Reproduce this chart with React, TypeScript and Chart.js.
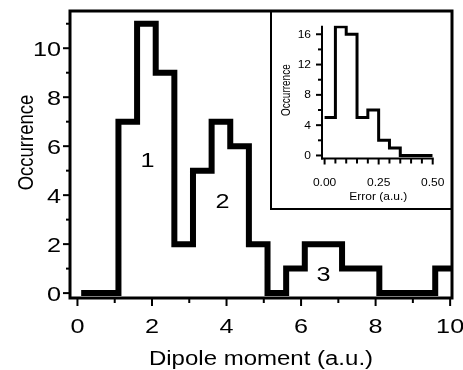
import React, { useEffect, useRef } from 'react';
import { Chart, registerables } from 'chart.js';

Chart.register(...registerables);

// ---------- data ----------
const mainBinEdges = [0.1, 0.6, 1.1, 1.6, 2.1, 2.6, 3.1, 3.6, 4.1, 4.6, 5.1, 5.6, 6.1, 6.6, 7.1, 7.6, 8.1, 8.6, 9.1, 9.6, 10.1];
const mainCounts = [0, 0, 7, 11, 9, 2, 5, 7, 6, 2, 0, 1, 2, 2, 1, 1, 0, 0, 0, 1];
const mainXTicks = [0, 2, 4, 6, 8, 10];
const mainXMinor = [1, 3, 5, 7, 9];
const mainYTicks = [0, 2, 4, 6, 8, 10];
const mainYMinor = [1, 3, 5, 7, 9, 11];
const peakLabels = ['1', '2', '3'];
const peakX = [1.88, 3.89, 6.6];
const peakY = [5.47, 3.8, 0.8];

const insetBinEdges = [0, 0.05, 0.1, 0.15, 0.2, 0.25, 0.3, 0.35, 0.4, 0.45, 0.5];
const insetCounts = [5, 17, 16, 5, 6, 2, 1, 0, 0, 0];
const insetXTicks = [0, 0.25, 0.5];
const insetXMinor = [0.05, 0.1, 0.15, 0.2, 0.3, 0.35, 0.4, 0.45];
const insetYTicks = [0, 4, 8, 12, 16];
const insetYMinor = [2, 6, 10, 14];

const mainXTitle = 'Dipole moment (a.u.)';
const mainYTitle = 'Occurrence';
const insetXTitle = 'Error (a.u.)';
const insetYTitle = 'Occurrence';

// ---------- layout / style ----------
const FONT = '"Liberation Sans", Arial, Helvetica, sans-serif';
const SX = 1.2; // horizontal text stretch seen in the reference
const W = 463;
const H = 370;
const INSET = { left: 272, top: 12, width: 178, height: 196 };
const INSET_BOX = { x: 271, y: 11, w: 181, h: 198 };

function stepPoints(edges: number[], counts: number[]) {
  return edges.map((x, i) => ({ x, y: counts[Math.min(i, counts.length - 1)] }));
}

function drawText(
  ctx: CanvasRenderingContext2D,
  text: string,
  x: number,
  y: number,
  size: number,
  align: CanvasTextAlign,
  rotate = false
) {
  ctx.save();
  ctx.translate(x, y);
  ctx.scale(SX, 1);
  if (rotate) ctx.rotate(-Math.PI / 2);
  ctx.font = `${size}px ${FONT}`;
  ctx.fillStyle = '#000';
  ctx.textAlign = align;
  ctx.textBaseline = 'alphabetic';
  ctx.fillText(text, 0, 0);
  ctx.restore();
}

function line(ctx: CanvasRenderingContext2D, x1: number, y1: number, x2: number, y2: number) {
  ctx.beginPath();
  ctx.moveTo(x1, y1);
  ctx.lineTo(x2, y2);
  ctx.stroke();
}

const mainDecor = {
  id: 'mainDecor',
  afterDraw(chart: any) {
    const { ctx, chartArea: a } = chart;
    const xs = chart.scales.x;
    const ys = chart.scales.y;
    ctx.save();
    // inset panel background + frame
    ctx.fillStyle = '#fff';
    ctx.fillRect(INSET_BOX.x, INSET_BOX.y, INSET_BOX.w, INSET_BOX.h);
    ctx.strokeStyle = '#000';
    ctx.lineWidth = 2;
    ctx.strokeRect(INSET_BOX.x, INSET_BOX.y, INSET_BOX.w, INSET_BOX.h);
    // main frame
    ctx.lineWidth = 3;
    ctx.strokeRect(a.left, a.top, a.right - a.left, a.bottom - a.top);
    // ticks
    ctx.lineWidth = 2;
    mainXTicks.forEach((v) => {
      const p = xs.getPixelForValue(v);
      line(ctx, p, a.bottom, p, a.bottom + 8);
      drawText(ctx, String(v), p, a.bottom + 35, 21, 'center');
    });
    mainXMinor.forEach((v) => {
      const p = xs.getPixelForValue(v);
      line(ctx, p, a.bottom, p, a.bottom + 5);
    });
    mainYTicks.forEach((v) => {
      const p = ys.getPixelForValue(v);
      line(ctx, a.left, p, a.left - 7, p);
      drawText(ctx, String(v), a.left - 9, p + 7.5, 21, 'right');
    });
    mainYMinor.forEach((v) => {
      const p = ys.getPixelForValue(v);
      line(ctx, a.left, p, a.left - 4, p);
    });
    // titles
    drawText(ctx, mainXTitle, (a.left + a.right) / 2, a.bottom + 67, 20, 'center');
    drawText(ctx, mainYTitle, a.left - 37, (a.top + a.bottom) / 2 - 12, 18.5, 'center', true);
    // peak labels
    peakLabels.forEach((t, i) => {
      drawText(ctx, t, xs.getPixelForValue(peakX[i]), ys.getPixelForValue(peakY[i]) + 7.5, 21, 'center');
    });
    ctx.restore();
  },
};

const insetDecor = {
  id: 'insetDecor',
  afterDraw(chart: any) {
    const { ctx, chartArea: a } = chart;
    const xs = chart.scales.x;
    const ys = chart.scales.y;
    ctx.save();
    ctx.strokeStyle = '#000';
    ctx.lineWidth = 2;
    line(ctx, a.left, a.top, a.left, a.bottom + 1);
    line(ctx, a.left - 1, a.bottom, a.right + 1, a.bottom);
    insetXTicks.forEach((v) => {
      const p = xs.getPixelForValue(v);
      line(ctx, p, a.bottom, p, a.bottom + 6);
      drawText(ctx, v.toFixed(2), p, a.bottom + 27, 10, 'center');
    });
    insetXMinor.forEach((v) => {
      const p = xs.getPixelForValue(v);
      line(ctx, p, a.bottom, p, a.bottom + 5);
    });
    insetYTicks.forEach((v) => {
      const p = ys.getPixelForValue(v);
      line(ctx, a.left, p, a.left - 6, p);
      drawText(ctx, String(v), a.left - 11, p + 3.6, 10, 'right');
    });
    insetYMinor.forEach((v) => {
      const p = ys.getPixelForValue(v);
      line(ctx, a.left, p, a.left - 4, p);
    });
    drawText(ctx, insetXTitle, (a.left + a.right) / 2 + 1, a.bottom + 41.5, 10, 'center');
    drawText(ctx, insetYTitle, a.left - 32, (a.top + a.bottom) / 2 - 2, 10, 'center', true);
    ctx.restore();
  },
};

export default function App() {
  const mainRef = useRef<HTMLCanvasElement | null>(null);
  const insetRef = useRef<HTMLCanvasElement | null>(null);

  useEffect(() => {
    if (!mainRef.current || !insetRef.current) return;
    const main = new Chart(mainRef.current, {
      type: 'line',
      data: {
        datasets: [
          {
            data: stepPoints(mainBinEdges, mainCounts),
            borderColor: '#000',
            borderWidth: 6,
            borderJoinStyle: 'miter',
            borderCapStyle: 'butt',
            pointRadius: 0,
            stepped: true,
            fill: false,
            clip: 0,
          } as any,
        ],
      },
      options: {
        responsive: false,
        animation: false,
        events: [],
        layout: { padding: { left: 70, right: 11, top: 11, bottom: 72 } },
        plugins: { legend: { display: false }, tooltip: { enabled: false } },
        scales: {
          x: { type: 'linear', min: -0.2, max: 10.05, display: false },
          y: { type: 'linear', min: -0.2, max: 11.52, display: false },
        },
      },
      plugins: [mainDecor],
    });

    const inset = new Chart(insetRef.current, {
      type: 'line',
      data: {
        datasets: [
          {
            data: stepPoints(insetBinEdges, insetCounts),
            borderColor: '#000',
            borderWidth: 3,
            borderJoinStyle: 'miter',
            borderCapStyle: 'butt',
            pointRadius: 0,
            stepped: true,
            fill: false,
          } as any,
        ],
      },
      options: {
        responsive: false,
        animation: false,
        events: [],
        layout: { padding: { left: 50, right: 17.3, top: 13.7, bottom: 49.5 } },
        plugins: { legend: { display: false }, tooltip: { enabled: false } },
        scales: {
          x: { type: 'linear', min: -0.012, max: 0.5, display: false },
          y: { type: 'linear', min: -0.4, max: 17.13, display: false },
        },
      },
      plugins: [insetDecor],
    });

    return () => {
      main.destroy();
      inset.destroy();
    };
  }, []);

  return (
    <div style={{ position: 'absolute', left: 0, top: 0, width: W, height: H, background: '#fff' }}>
      <canvas
        ref={mainRef}
        width={W}
        height={H}
        style={{ position: 'absolute', left: 0, top: 0, width: W, height: H }}
      />
      <canvas
        ref={insetRef}
        width={INSET.width}
        height={INSET.height}
        style={{
          position: 'absolute',
          left: INSET.left,
          top: INSET.top,
          width: INSET.width,
          height: INSET.height,
        }}
      />
    </div>
  );
}
